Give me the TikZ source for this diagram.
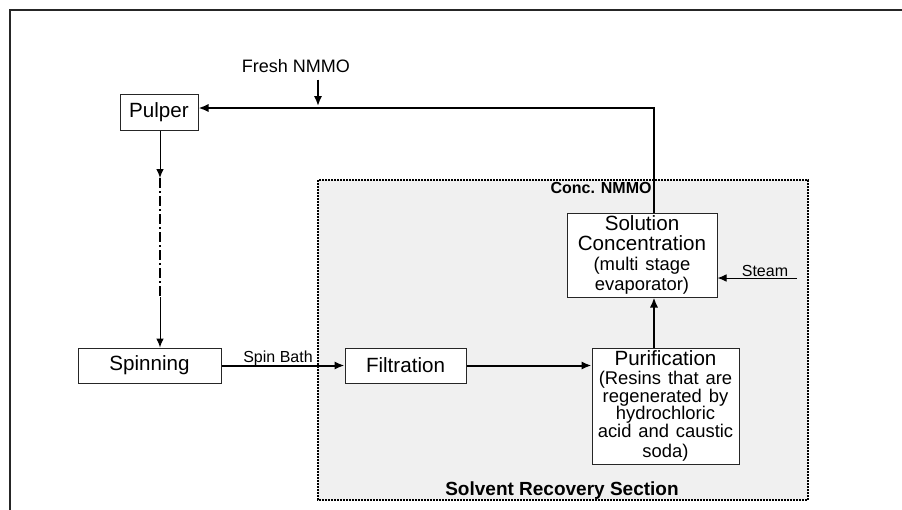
\documentclass[tikz,border=0pt]{standalone}
\usepackage{fontspec}
\setmainfont{Liberation Sans}
\usetikzlibrary{arrows.meta}
\begin{document}
\begin{tikzpicture}[x=0.5pt,y=-0.5pt,every node/.style={font=\fontsize{10.3}{10}\selectfont},
  unit/.style={draw=black!85,line width=0.5pt,fill=white,inner sep=0pt,align=center},
  tag/.style={font=\fontsize{8}{8}\selectfont,inner sep=0pt},
  feed/.style={black,line width=0.5pt,-{Latex[length=4.5pt,width=3.8pt]}},
  flow/.style={black,line width=1pt,-{Latex[length=5pt,width=4.2pt]}}]
  \useasboundingbox (0,0) rectangle (902,510);
  \draw [black!85,line width=1.3pt] (10,520) -- (10,10) -- (912,10);
  \draw [fill=black!6,line width=0.7pt,dash pattern=on 1pt off 0.5pt] (318,180) rectangle (808,500);
  \node [unit,minimum width=39pt,minimum height=18pt] (pulper) at (159,112) {Pulper};
  \node [unit,minimum width=71.5pt,minimum height=17.5pt] (spinning) at (149.5,365.5) {Spinning};
  \node [unit,minimum width=60.5pt,minimum height=17.5pt] (filtration) at (405.5,365.5) {Filtration};
  \node [unit,text width=73.5pt,minimum height=58pt] (purification) at (665.5,406)
    {Purification\\[0.8pt]\fontsize{9.2}{8.8}\selectfont (Resins that are\\regenerated by\\hydrochloric\\acid and caustic\\soda)};
  \node [unit,text width=75pt,minimum height=42pt] (solution) at (642,255)
    {Solution\\Concentration\\[1.8pt]\fontsize{9.2}{8.4}\selectfont (multi stage\\evaporator)};
  \node [font=\fontsize{9}{9}\selectfont] (fresh) at (296,66) {Fresh NMMO};
  \node [tag,anchor=base] (spinbath) at (278,362) {Spin Bath};
  \node [tag,anchor=base] (steamtag) at (765,276) {Steam};
  \node [font=\fontsize{8}{8}\selectfont\bfseries,inner sep=0pt,anchor=base east] (conc) at (652,193) {Conc. NMMO};
  \node [font=\fontsize{9.5}{9.5}\selectfont\bfseries,inner sep=0pt,anchor=base] (section) at (562,495) {Solvent Recovery Section};
  \coordinate (top) at (654,108);
  \coordinate (mix) at (318,106);
  \coordinate (d1) at (160,178);
  \coordinate (d2) at (160,297);
  \coordinate (steam) at (797,278);
  \draw [feed] (pulper.south -| d1) -- (d1);
  \draw [black,line width=1pt,dash pattern=on 5pt off 1.5pt on 1pt off 1.5pt] (d1) -- (d2);
  \draw [feed] (d2) -- (d2 |- spinning.north);
  \draw [flow] (spinning) -- (filtration);
  \draw [flow] (filtration.east) -- (filtration.east -| purification.west);
  \draw [flow,line width=1.4pt] (purification.north -| top) -- (solution.south -| top);
  \draw [flow] (solution.north -| top) -- (top) -- (top -| pulper.east);
  \draw [flow] (fresh.south -| mix) -- (mix);
  \draw [feed] (steam) -- (steam -| solution.east);
\end{tikzpicture}
\end{document}
